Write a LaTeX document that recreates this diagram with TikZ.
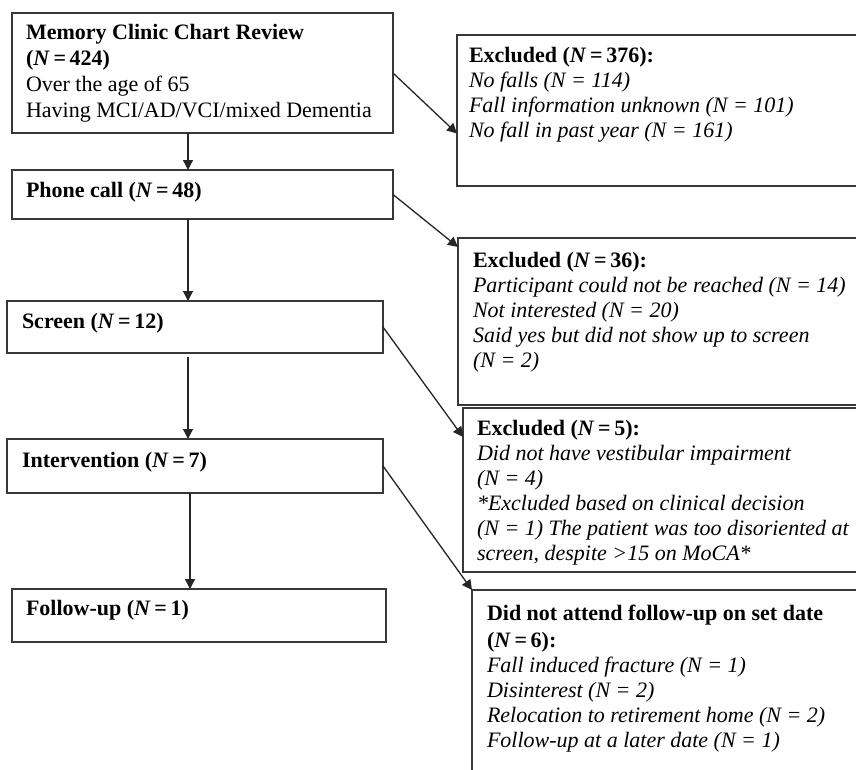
\documentclass[tikz,border=0pt]{standalone}
\usepackage{fontspec}
\setmainfont{Liberation Serif}
\usetikzlibrary{arrows.meta}
\tikzset{
  box/.style={draw=black!78, line width=1.4pt, anchor=north west, inner sep=0pt, outer sep=0pt, fill=white},
  txt/.style={anchor=base west, inner sep=0pt, outer sep=0pt, font=\fontsize{22}{25}\selectfont},
  arr/.style={draw=black!85, line width=1.3pt, -{Triangle[length=10pt,width=10pt]}}
}
\newcommand{\NN}{\textit{N}\,=\,}
\begin{document}
\begin{tikzpicture}[x=1pt,y=-1pt]
\clip (0,0) rectangle (856,769);
\fill[white] (0,0) rectangle (856,769);
% left boxes
\node[box, minimum width=381pt, minimum height=120pt] (b1) at (12,13) {};
\node[box, minimum width=381pt, minimum height=49pt] (p) at (12,170) {};
\node[box, minimum width=376pt, minimum height=52pt] (s) at (7,301) {};
\node[box, minimum width=376pt, minimum height=54pt] (i) at (7,439) {};
\node[box, minimum width=374pt, minimum height=53pt] (f) at (12,589) {};
% right boxes
\node[box, minimum width=420pt, minimum height=151pt] (e1) at (457,35) {};
\node[box, minimum width=420pt, minimum height=167pt] (e2) at (458,238) {};
\node[box, minimum width=420pt, minimum height=164pt] (e3) at (463,408) {};
\node[box, minimum width=420pt, minimum height=200pt] (e4) at (472,590) {};
% texts
\node[txt] (tb1) at (26,39) {\begin{tabular}[t]{@{}l@{}}
\textbf{Memory Clinic Chart Review}\\[1pt]
\textbf{(\NN424)}\\[1pt]
Over the age of 65\\[1pt]
Having MCI/AD/VCI/mixed Dementia
\end{tabular}};
\node[txt] (tp) at (26,197) {\textbf{Phone call (\NN48)}};
\node[txt] (ts) at (22,328) {\textbf{Screen (\NN12)}};
\node[txt] (ti) at (22,467) {\textbf{Intervention (\NN7)}};
\node[txt] (tf) at (26,615) {\textbf{Follow-up (\NN1)}};
\node[txt] (te1) at (469,62) {\begin{tabular}[t]{@{}l@{}}
\textbf{Excluded (\NN376):}\\
\textit{No falls (N = 114)}\\
\textit{Fall information unknown (N = 101)}\\
\textit{No fall in past year (N = 161)}
\end{tabular}};
\node[txt] (te2) at (473,267) {\begin{tabular}[t]{@{}l@{}}
\textbf{Excluded (\NN36):}\\
\textit{Participant could not be reached (N = 14)}\\
\textit{Not interested (N = 20)}\\
\textit{Said yes but did not show up to screen}\\
\textit{(N = 2)}
\end{tabular}};
\node[txt] (te3) at (477,435) {\begin{tabular}[t]{@{}l@{}}
\textbf{Excluded (\NN5):}\\
\textit{Did not have vestibular impairment}\\
\textit{(N = 4)}\\
\textit{*Excluded based on clinical decision}\\
\textit{(N = 1) The patient was too disoriented at}\\
\textit{screen, despite >15 on MoCA*}
\end{tabular}};
\node[txt] (te4) at (487,620) {\begin{tabular}[t]{@{}l@{}}
\textbf{Did not attend follow-up on set date}\\[2pt]
\textbf{(\NN6):}\\
\textit{Fall induced fracture (N = 1)}\\
\textit{Disinterest (N = 2)}\\
\textit{Relocation to retirement home (N = 2)}\\
\textit{Follow-up at a later date (N = 1)}
\end{tabular}};
% vertical arrows
\draw[arr] ([xshift=-14.5pt]b1.south) -- ([xshift=-14.5pt]p.north);
\draw[arr] ([xshift=-14.5pt]p.south) -- ([xshift=-7pt]s.north);
\draw[arr] ([xshift=-7pt,yshift=-4pt]s.south) -- ([xshift=-7pt]i.north);
\draw[arr] ([xshift=-5pt]i.south) -- ([xshift=-9pt]f.north);
% diagonal arrows
\draw[arr] (b1.east) -- ([yshift=-23pt]e1.west);
\draw[arr] (p.east) -- ([yshift=-9pt]e2.north west);
\draw[arr] (s.east) -- ([yshift=-29pt]e3.north west);
\draw[arr] (i.east) -- (e4.north west);
\end{tikzpicture}
\end{document}
